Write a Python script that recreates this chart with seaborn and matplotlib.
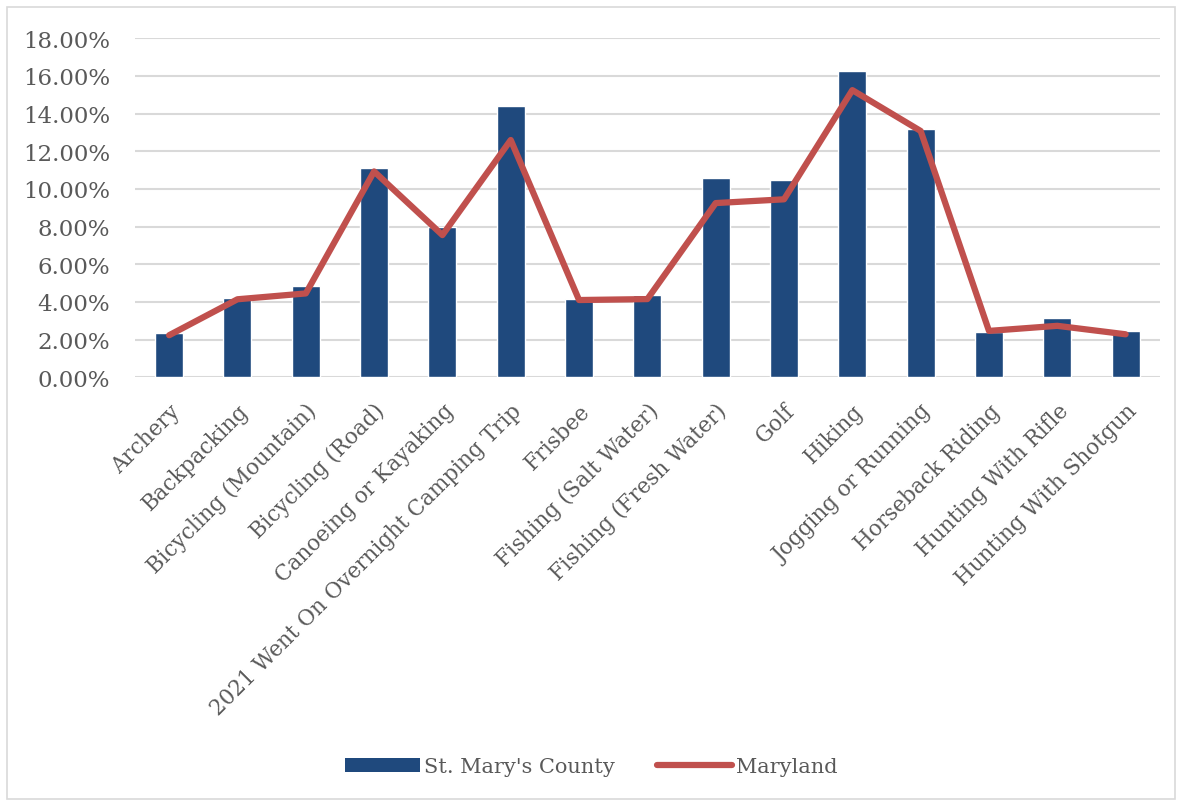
import matplotlib
matplotlib.use('Agg')
import matplotlib.pyplot as plt
import seaborn as sns
import pandas as pd
from matplotlib.ticker import PercentFormatter
from matplotlib.lines import Line2D
from matplotlib.patches import Patch, Rectangle

# Data (percent)
activities = ['Archery', 'Backpacking', 'Bicycling (Mountain)', 'Bicycling (Road)',
              'Canoeing or Kayaking', '2021 Went On Overnight Camping Trip', 'Frisbee',
              'Fishing (Salt Water)', 'Fishing (Fresh Water)', 'Golf', 'Hiking',
              'Jogging or Running', 'Horseback Riding', 'Hunting With Rifle',
              'Hunting With Shotgun']
st_marys = [2.34, 4.2, 4.83, 11.1, 7.97, 14.42, 4.15, 4.35, 10.6, 10.45, 16.25,
            13.17, 2.4, 3.13, 2.46]
maryland = [2.23, 4.14, 4.45, 10.93, 7.55, 12.6, 4.1, 4.15, 9.25, 9.45, 15.25,
            13.08, 2.46, 2.73, 2.28]

df = pd.DataFrame({'activity': activities, 'county': st_marys, 'state': maryland})

bar_color = '#1F497D'
line_color = '#C0504D'
text_color = '#595959'
grid_color = '#D9D9D9'

sns.set_theme(style='white')
plt.rcParams['font.family'] = ['DejaVu Serif']

fig = plt.figure(figsize=(11.82, 8.03), dpi=100)
ax = fig.add_axes([0.1142, 0.529, 0.867, 0.422])

sns.barplot(data=df, x='activity', y='county', color=bar_color, width=0.41,
            saturation=1, ax=ax, zorder=3)
sns.lineplot(x=range(len(activities)), y=df['state'], color=line_color,
             linewidth=4.5, ax=ax, zorder=4, solid_capstyle='round',
             solid_joinstyle='round')

ax.set_ylim(0, 18)
ax.set_yticks(range(0, 19, 2))
ax.yaxis.set_major_formatter(PercentFormatter(decimals=2))
ax.set_xlim(-0.5, len(activities) - 0.5)
ax.grid(axis='y', color=grid_color, linewidth=1.5, zorder=0)
ax.set_axisbelow(True)
for s in ax.spines.values():
    s.set_visible(False)
ax.set_xlabel('')
ax.set_ylabel('')
ax.tick_params(axis='y', length=0, labelsize=16.5, colors=text_color, pad=18)
ax.tick_params(axis='x', length=0, labelsize=15.5, colors=text_color, pad=16)
ax.set_xticks(range(len(activities)))
ax.set_xticklabels(activities, rotation=45, ha='right', rotation_mode='anchor')
for lab in ax.get_xticklabels():
    lab.set_color(text_color)

handles = [Patch(facecolor=bar_color, edgecolor='none', label="St. Mary's County"),
           Line2D([0], [0], color=line_color, linewidth=4.5, label='Maryland',
                  solid_capstyle='round')]
leg = fig.legend(handles=handles, loc='center', bbox_to_anchor=(0.5, 0.044),
                 ncol=2, frameon=False, fontsize=15, handlelength=3.6,
                 handletextpad=0.2, columnspacing=2.0)
for t in leg.get_texts():
    t.set_color(text_color)

# thin frame around the whole chart area
fig.patches.append(Rectangle((0.006, 0.004), 0.988, 0.986, transform=fig.transFigure,
                             fill=False, edgecolor='#D9D9D9', linewidth=1.2))

fig.savefig('out.png', dpi=100)
